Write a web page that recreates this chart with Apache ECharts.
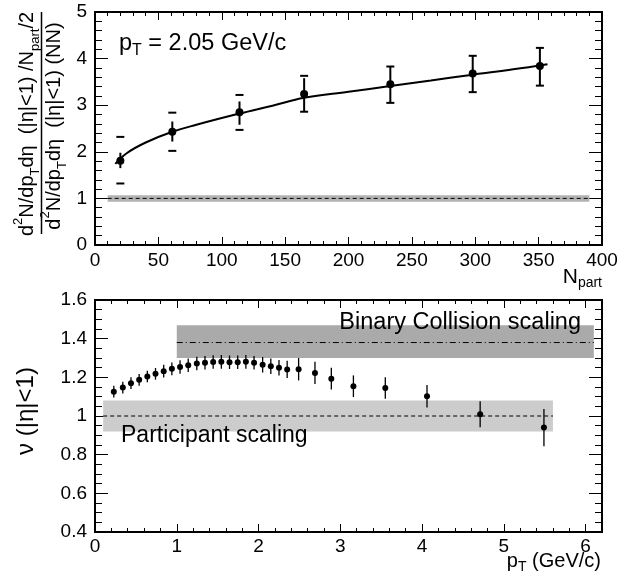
<!DOCTYPE html>
<html>
<head>
<meta charset="utf-8">
<script src="https://cdn.jsdelivr.net/npm/echarts@6/dist/echarts.min.js"></script>
<style>html,body{margin:0;padding:0;background:#fff;}#c{width:630px;height:578px;}</style>
</head>
<body>
<div id="c"></div>
<script>
// ---------- Top panel data ----------
const topN        = [20, 61, 114, 165, 233, 298, 351];
const topRatio    = [1.81, 2.43, 2.85, 3.24, 3.45, 3.68, 3.84];
const topStatLo   = [1.65, 2.22, 2.58, 2.87, 3.05, 3.28, 3.42];
const topStatHi   = [1.98, 2.65, 3.08, 3.58, 3.83, 4.06, 4.23];
const topSystLo   = [1.32, 2.02, 2.47, 2.86, 3.05, 3.28, 3.42];
const topSystHi   = [2.32, 2.84, 3.22, 3.63, 3.83, 4.06, 4.23];
const fitN        = [16, 25, 40, 61, 80, 114, 140, 165, 200, 233, 265, 298, 330, 357];
const fitY        = [1.74, 1.97, 2.2, 2.43, 2.58, 2.82, 2.99, 3.16, 3.29, 3.41, 3.53, 3.655, 3.77, 3.88];
const topBand     = [10, 390, 0.93, 1.07];   // xFrom, xTo, lo, hi
const topRefLine  = 1;
const topXTicks   = [0, 50, 100, 150, 200, 250, 300, 350, 400];
const topYTicks   = [0, 1, 2, 3, 4, 5];

// ---------- Bottom panel data ----------
const pt  = [0.23,0.34,0.44,0.54,0.64,0.74,0.84,0.94,1.04,1.14,1.245,1.345,1.445,1.545,1.645,1.745,1.845,1.945,2.05,2.15,2.25,2.35,2.49,2.69,2.89,3.16,3.55,4.06,4.71,5.49];
const nu  = [1.126,1.147,1.17,1.187,1.204,1.218,1.232,1.244,1.254,1.263,1.272,1.275,1.279,1.28,1.278,1.278,1.28,1.275,1.265,1.257,1.25,1.241,1.242,1.223,1.193,1.154,1.145,1.102,1.009,0.94];
const nuErr = [0.03,0.03,0.03,0.03,0.03,0.03,0.033,0.033,0.035,0.035,0.035,0.035,0.035,0.035,0.035,0.035,0.035,0.035,0.04,0.04,0.04,0.045,0.058,0.058,0.056,0.056,0.056,0.058,0.067,0.096];
const binaryBand = [1.0, 6.1, 1.30, 1.47];
const binaryLine = 1.38;
const partBand   = [0.1, 5.6, 0.92, 1.08];
const partLine   = 1.0;
const botXTicks  = [0, 1, 2, 3, 4, 5, 6];
const botYTicks  = [0.4, 0.6, 0.8, 1, 1.2, 1.4, 1.6];

const FONT = '"Liberation Sans", Arial, Helvetica, sans-serif';
const chart = echarts.init(document.getElementById('c'), null, {renderer: 'canvas'});

function axisBase(extra) {
  return Object.assign({
    type: 'value',
    axisLine: {show: true, onZero: false, lineStyle: {color: '#000', width: 2}},
    axisTick: {show: true, inside: true, length: 8, lineStyle: {color: '#000', width: 1}},
    minorTick: {show: false},
    splitLine: {show: false},
    axisLabel: {show: false}
  }, extra);
}
function labelStyle(extra) {
  return Object.assign({show: true, color: '#000', fontFamily: FONT, fontSize: 19}, extra);
}

function bandRender(params, api) {
  const a = api.coord([api.value(0), api.value(3)]);
  const b = api.coord([api.value(1), api.value(2)]);
  return {type: 'rect', shape: {x: a[0], y: a[1], width: b[0]-a[0], height: b[1]-a[1]},
          style: {fill: api.visual('color')}};
}
function errRender(w) {
  return function (params, api) {
    const p1 = api.coord([api.value(0), api.value(1)]);
    const p2 = api.coord([api.value(0), api.value(2)]);
    return {type: 'line', shape: {x1: p1[0], y1: p1[1], x2: p2[0], y2: p2[1]},
            style: {stroke: '#000', lineWidth: w}};
  };
}
function capRender(params, api) {
  const p1 = api.coord([api.value(0), api.value(1)]);
  const p2 = api.coord([api.value(0), api.value(2)]);
  const h = 4;
  return {type: 'group', children: [
    {type: 'line', shape: {x1: p1[0]-h, y1: p1[1], x2: p1[0]+h, y2: p1[1]}, style: {stroke: '#000', lineWidth: 2}},
    {type: 'line', shape: {x1: p2[0]-h, y1: p2[1], x2: p2[0]+h, y2: p2[1]}, style: {stroke: '#000', lineWidth: 2}}
  ]};
}

const topErr  = topN.map((x, i) => [x, topStatLo[i], topStatHi[i]]);
const topSyst = topN.map((x, i) => [x, topSystLo[i], topSystHi[i]]);
const botErr  = pt.map((x, i) => [x, nu[i] - nuErr[i], nu[i] + nuErr[i]]);

const richFrac = {
  n: {fontFamily: FONT, fontSize: 20, lineHeight: 30, fill: '#000'},
  sup: {fontFamily: FONT, fontSize: 13, lineHeight: 19, verticalAlign: 'top', fill: '#000'},
  sub: {fontFamily: FONT, fontSize: 13, lineHeight: 13, verticalAlign: 'bottom', fill: '#000'}
};

const option = {
  animation: false,
  backgroundColor: '#fff',
  grid: [
    {left: 95, top: 12, width: 507, height: 233},
    {left: 95, top: 300, width: 507, height: 232}
  ],
  xAxis: [
    axisBase({gridIndex: 0, position: 'bottom', min: 0, max: 400, interval: 50,
      minorTick: {show: true, splitNumber: 5, length: 4, lineStyle: {color: '#000'}},
      axisLabel: labelStyle({margin: 6, formatter: v => topXTicks.indexOf(v) >= 0 ? String(v) : ''})}),
    axisBase({gridIndex: 0, position: 'top', min: 0, max: 400, interval: 50,
      minorTick: {show: true, splitNumber: 5, length: 4, lineStyle: {color: '#000'}}}),
    axisBase({gridIndex: 1, position: 'bottom', min: 0, max: 6.2, interval: 1,
      axisLabel: labelStyle({margin: 5, showMaxLabel: false, formatter: v => botXTicks.indexOf(v) >= 0 ? String(v) : ''})}),
    axisBase({gridIndex: 1, position: 'bottom', min: 0, max: 6.2, interval: 0.2,
      axisTick: {show: true, inside: true, length: 4, lineStyle: {color: '#000', width: 1}}}),
    axisBase({gridIndex: 1, position: 'top', min: 0, max: 6.2, interval: 1}),
    axisBase({gridIndex: 1, position: 'top', min: 0, max: 6.2, interval: 0.2,
      axisTick: {show: true, inside: true, length: 4, lineStyle: {color: '#000', width: 1}}})
  ],
  yAxis: [
    axisBase({gridIndex: 0, position: 'left', min: 0, max: 5, interval: 1,
      axisTick: {show: true, inside: true, length: 13, lineStyle: {color: '#000'}},
      minorTick: {show: true, splitNumber: 5, length: 7, lineStyle: {color: '#000'}},
      axisLabel: labelStyle({margin: 8, formatter: v => topYTicks.indexOf(v) >= 0 ? String(v) : ''})}),
    axisBase({gridIndex: 0, position: 'right', min: 0, max: 5, interval: 1,
      axisTick: {show: true, inside: true, length: 13, lineStyle: {color: '#000'}},
      minorTick: {show: true, splitNumber: 5, length: 7, lineStyle: {color: '#000'}}}),
    axisBase({gridIndex: 1, position: 'left', min: 0.4, max: 1.6, interval: 0.2,
      axisTick: {show: true, inside: true, length: 13, lineStyle: {color: '#000'}},
      minorTick: {show: true, splitNumber: 4, length: 7, lineStyle: {color: '#000'}},
      axisLabel: labelStyle({margin: 8, formatter: v => {
        const r = Math.round(v * 10) / 10;
        return botYTicks.some(t => Math.abs(t - r) < 1e-6) ? String(r) : '';
      }})}),
    axisBase({gridIndex: 1, position: 'right', min: 0.4, max: 1.6, interval: 0.2,
      axisTick: {show: true, inside: true, length: 13, lineStyle: {color: '#000'}},
      minorTick: {show: true, splitNumber: 4, length: 7, lineStyle: {color: '#000'}}})
  ],
  series: [
    // ---- top panel ----
    {type: 'custom', xAxisIndex: 0, yAxisIndex: 0, renderItem: bandRender, itemStyle: {color: '#b2b2b2'},
     encode: {x: [0, 1], y: [2, 3]}, data: [topBand], z: 1},
    {type: 'line', xAxisIndex: 0, yAxisIndex: 0, symbol: 'none',
     lineStyle: {color: '#000', width: 1, type: [4, 3]},
     data: [[topBand[0], topRefLine], [topBand[1], topRefLine]], z: 2},
    {type: 'line', xAxisIndex: 0, yAxisIndex: 0, symbol: 'none', smooth: 0.4,
     lineStyle: {color: '#000', width: 2}, data: fitN.map((x, i) => [x, fitY[i]]), z: 3},
    {type: 'custom', xAxisIndex: 0, yAxisIndex: 0, renderItem: errRender(2),
     encode: {x: 0, y: [1, 2]}, data: topErr, z: 4},
    {type: 'custom', xAxisIndex: 0, yAxisIndex: 0, renderItem: capRender,
     encode: {x: 0, y: [1, 2]}, data: topSyst, z: 4},
    {type: 'scatter', xAxisIndex: 0, yAxisIndex: 0, symbol: 'circle', symbolSize: 8,
     itemStyle: {color: '#000', opacity: 1}, data: topN.map((x, i) => [x, topRatio[i]]), z: 5},
    // ---- bottom panel ----
    {type: 'custom', xAxisIndex: 2, yAxisIndex: 2, renderItem: bandRender, itemStyle: {color: '#aaaaaa'},
     encode: {x: [0, 1], y: [2, 3]}, data: [binaryBand], z: 1},
    {type: 'custom', xAxisIndex: 2, yAxisIndex: 2, renderItem: bandRender, itemStyle: {color: '#cccccc'},
     encode: {x: [0, 1], y: [2, 3]}, data: [partBand], z: 1},
    {type: 'line', xAxisIndex: 2, yAxisIndex: 2, symbol: 'none',
     lineStyle: {color: '#000', width: 1, type: [6, 3, 1, 3]},
     data: [[binaryBand[0], binaryLine], [binaryBand[1], binaryLine]], z: 2},
    {type: 'line', xAxisIndex: 2, yAxisIndex: 2, symbol: 'none',
     lineStyle: {color: '#000', width: 1, type: [4, 3]},
     data: [[partBand[0], partLine], [partBand[1], partLine]], z: 2},
    {type: 'custom', xAxisIndex: 2, yAxisIndex: 2, renderItem: errRender(1.3),
     encode: {x: 0, y: [1, 2]}, data: botErr, z: 4},
    {type: 'scatter', xAxisIndex: 2, yAxisIndex: 2, symbol: 'circle', symbolSize: 6,
     itemStyle: {color: '#000', opacity: 1}, data: pt.map((x, i) => [x, nu[i]]), z: 5}
  ],
  graphic: [
    // top y title: numerator
    {type: 'text', x: 27, y: 124, rotation: Math.PI / 2, z: 10,
     style: {text: '{n|d}{sup|2}{n|N/dp}{sub|T}{n|dη  (|η|<1) /N}{sub|part}{n|/2}',
       align: 'center', verticalAlign: 'middle', fill: '#000', rich: richFrac}},
    // fraction bar
    {type: 'line', shape: {x1: 41.5, y1: 12, x2: 41.5, y2: 234}, style: {stroke: '#000', lineWidth: 1.5}},
    // denominator
    {type: 'text', x: 54, y: 126, rotation: Math.PI / 2, z: 10,
     style: {text: '{n|d}{sup|2}{n|N/dp}{sub|T}{n|dη  (|η|<1) (NN)}',
       align: 'center', verticalAlign: 'middle', fill: '#000', rich: richFrac}},
    // pT annotation
    {type: 'text', x: 119, y: 29, z: 10,
     style: {text: '{n|p}{sub|T}{n| = 2.05 GeV/c}', fill: '#000',
       rich: {
         n: {fontFamily: FONT, fontSize: 23.5, lineHeight: 30, fill: '#000'},
         sub: {fontFamily: FONT, fontSize: 16, lineHeight: 15, verticalAlign: 'bottom', fill: '#000'}
       }}},
    // N_part label
    {type: 'text', x: 602, y: 264, z: 10,
     style: {text: '{n|N}{sub|part}', align: 'right', fill: '#000',
       rich: {
         n: {fontFamily: FONT, fontSize: 21, lineHeight: 26, fill: '#000'},
         sub: {fontFamily: FONT, fontSize: 14, lineHeight: 14, verticalAlign: 'bottom', fill: '#000'}
       }}},
    // bottom y title
    {type: 'text', x: 26, y: 411, rotation: Math.PI / 2, z: 10,
     style: {text: 'ν (|η|<1)', align: 'center', verticalAlign: 'middle', fill: '#000',
       fontFamily: FONT, fontSize: 24}},
    // pT axis title
    {type: 'text', x: 601, y: 548, z: 10,
     style: {text: '{n|p}{sub|T}{n| (GeV/c)}', align: 'right', fill: '#000',
       rich: {
         n: {fontFamily: FONT, fontSize: 20, lineHeight: 26, fill: '#000'},
         sub: {fontFamily: FONT, fontSize: 14, lineHeight: 14, verticalAlign: 'bottom', fill: '#000'}
       }}},
    // band labels
    {type: 'text', x: 581, y: 311, z: 10,
     style: {text: 'Binary Collision scaling', align: 'right', fill: '#000', fontFamily: FONT, fontSize: 23.5}},
    {type: 'text', x: 121, y: 424, z: 10,
     style: {text: 'Participant scaling', fill: '#000', fontFamily: FONT, fontSize: 23}}
  ]
};
chart.setOption(option);
</script>
</body>
</html>
